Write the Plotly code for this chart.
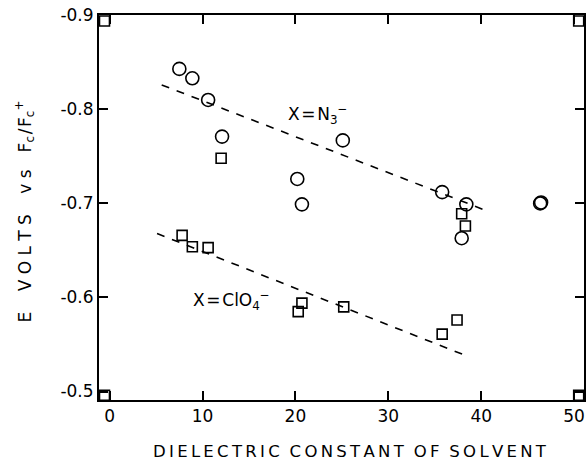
import plotly.graph_objects as go

# N3- series (circles)
n3_x = [7.5, 8.9, 10.6, 12.1, 20.2, 20.7, 25.1, 35.8, 38.4, 37.9, 46.35, 46.45]
n3_y = [-0.843, -0.833, -0.810, -0.771, -0.726, -0.699, -0.767, -0.712, -0.699, -0.663, -0.700, -0.701]

# ClO4- series (squares)
clo4_x = [12.0, 37.9, 38.3, 7.8, 8.9, 10.6, 20.3, 20.7, 25.2, 35.8, 37.4]
clo4_y = [-0.748, -0.689, -0.676, -0.666, -0.654, -0.653, -0.585, -0.594, -0.590, -0.561, -0.576]

# fitted dashed lines (endpoints)
n3_fit_x = [5.6, 40.9]
n3_fit_y = [-0.826, -0.691]
clo4_fit_x = [5.1, 38.4]
clo4_fit_y = [-0.668, -0.538]

# frame corner markers
corner_x = [-0.56, 50.5, -0.56, 50.5]
corner_y = [-0.894, -0.894, -0.496, -0.496]

x_ticks = [0, 10, 20, 30, 40, 50]
x_ticktext = ["0", "10", "20", "30", "40", "50"]
y_ticks = [-0.9, -0.8, -0.7, -0.6, -0.5]
y_ticktext = ["-0.9", "-0.8", "-0.7", "-0.6", "-0.5"]

FONT = "DejaVu Sans"
HS = "\u200a"
TS = "\u2009"


def spaced(s, gap=TS, wordgap="\u2003"):
    words = s.split(" ")
    return wordgap.join(gap.join(w) for w in words)


fig = go.Figure()
fig.add_trace(go.Scatter(x=n3_fit_x, y=n3_fit_y, mode="lines",
                         line=dict(color="black", width=1.6, dash="8px,8px"),
                         showlegend=False, hoverinfo="skip"))
fig.add_trace(go.Scatter(x=clo4_fit_x, y=clo4_fit_y, mode="lines",
                         line=dict(color="black", width=1.6, dash="8px,8px"),
                         showlegend=False, hoverinfo="skip"))
fig.add_trace(go.Scatter(x=n3_x, y=n3_y, mode="markers",
                         marker=dict(symbol="circle-open", size=13, color="black",
                                     line=dict(width=1.6, color="black")),
                         showlegend=False))
fig.add_trace(go.Scatter(x=clo4_x, y=clo4_y, mode="markers",
                         marker=dict(symbol="square-open", size=10, color="black",
                                     line=dict(width=1.6, color="black")),
                         showlegend=False))
fig.add_trace(go.Scatter(x=corner_x, y=corner_y, mode="markers",
                         marker=dict(symbol="square-open", size=10, color="black",
                                     line=dict(width=1.6, color="black")),
                         showlegend=False, cliponaxis=False))

fig.add_annotation(x=19.0, y=-0.795, xref="x", yref="y", xanchor="left", yanchor="middle",
                   text="X" + HS + "=" + HS + "N<sub>3</sub><sup>\u2212</sup>", showarrow=False,
                   font=dict(family=FONT, size=17, color="black"))
fig.add_annotation(x=8.8, y=-0.597, xref="x", yref="y", xanchor="left", yanchor="middle",
                   text="X" + HS + "=" + HS + "ClO<sub>4</sub><sup>\u2212</sup>", showarrow=False,
                   font=dict(family=FONT, size=17, color="black"))

# axis titles
fig.add_annotation(x=0.5, y=0, xref="paper", yref="paper", xanchor="center", yanchor="middle",
                   xshift=8, yshift=-51,
                   text=spaced("DIELECTRIC CONSTANT OF SOLVENT", wordgap="\u2002" + HS),
                   showarrow=False,
                   font=dict(family=FONT, size=16.5, color="black"))
fig.add_annotation(x=0, y=0.5, xref="paper", yref="paper", xanchor="center", yanchor="middle",
                   xshift=-74, yshift=-4, textangle=-90,
                   text=spaced("E VOLTS vs", gap=" ", wordgap="\u2003" + TS) + "\u2003"
                   + "F<sub>c</sub>" + HS + "/" + HS + "F<sub>c</sub><sup>+</sup>",
                   showarrow=False,
                   font=dict(family=FONT, size=17, color="black"))

axis_common = dict(showgrid=False, zeroline=False, showline=True, linecolor="black",
                   linewidth=2, mirror="ticks", ticks="inside", ticklen=9, tickwidth=1.6,
                   tickcolor="black", tickfont=dict(family=FONT, size=17, color="black"))

fig.update_xaxes(range=[-1.15, 51.07], tickvals=x_ticks, ticktext=x_ticktext, **axis_common)
fig.update_yaxes(range=[-0.491, -0.9003], tickvals=y_ticks, ticktext=y_ticktext, **axis_common)

fig.update_layout(width=587, height=460, margin=dict(l=99, r=1, t=15, b=60),
                  plot_bgcolor="white", paper_bgcolor="white",
                  font=dict(family=FONT, size=16, color="black"))

fig.write_html("out.html")
